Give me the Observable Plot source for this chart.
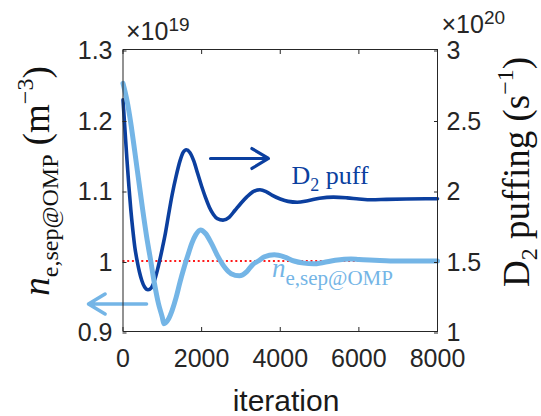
<!DOCTYPE html>
<html>
<head>
<meta charset="utf-8">
<script src="https://cdn.jsdelivr.net/npm/d3@7"></script>
<script src="https://cdn.jsdelivr.net/npm/@observablehq/plot@0.6"></script>
<style>
html, body { margin: 0; padding: 0; background: #fff; }
svg { display: block; }
</style>
</head>
<body>
<div id="chart"></div>
<script>
// ---- data ----
// n_e,sep@OMP (x 1e19 m^-3), left axis
const neIter = [0, 100, 200, 300, 400, 500, 600, 700, 800, 900, 1000, 1040, 1150, 1250, 1350, 1450, 1550, 1650, 1750, 1850, 1970, 2100, 2250, 2400, 2480, 2600, 2750, 2960, 3150, 3300, 3440, 3600, 3850, 4100, 4350, 4600, 4850, 5100, 5400, 5800, 6000, 6400, 6800, 7300, 8000];
const neValues = [1.252, 1.228, 1.195, 1.155, 1.114, 1.073, 1.035, 1.002, 0.968, 0.940, 0.920, 0.911, 0.917, 0.930, 0.948, 0.970, 0.990, 1.008, 1.025, 1.037, 1.044, 1.039, 1.025, 1.008, 1.000, 0.990, 0.982, 0.979, 0.985, 0.995, 1.000, 1.006, 1.009, 1.006, 1.000, 0.997, 0.996, 0.998, 1.001, 1.003, 1.002, 1.001, 1.000, 1.000, 1.000];
// D2 puffing (x 1e20 s^-1), right axis
const puffIter = [0, 50, 100, 150, 200, 250, 300, 360, 420, 480, 550, 636, 720, 800, 870, 930, 1000, 1080, 1160, 1250, 1350, 1450, 1530, 1610, 1700, 1800, 1900, 2000, 2100, 2200, 2300, 2400, 2544, 2700, 2850, 3000, 3150, 3300, 3483, 3650, 3800, 4000, 4200, 4431, 4700, 5000, 5354, 5700, 6000, 6318, 6700, 7200, 7700, 8000];
const puffValues = [2.643, 2.43, 2.22, 2.03, 1.86, 1.72, 1.60, 1.50, 1.42, 1.36, 1.315, 1.296, 1.31, 1.36, 1.43, 1.50, 1.59, 1.70, 1.83, 1.97, 2.10, 2.21, 2.27, 2.289, 2.27, 2.21, 2.12, 2.03, 1.95, 1.88, 1.83, 1.80, 1.79, 1.81, 1.86, 1.91, 1.955, 1.99, 2.005, 1.99, 1.965, 1.94, 1.923, 1.917, 1.928, 1.945, 1.953, 1.948, 1.94, 1.934, 1.937, 1.94, 1.941, 1.941];
const targetDensity = [1.0];

// ticks
const xTicks = [0, 2000, 4000, 6000, 8000];
const leftTicks = [0.9, 1.0, 1.1, 1.2, 1.3];
const leftTickLabels = ["0.9", "1", "1.1", "1.2", "1.3"];
const rightTicks = [1, 1.5, 2, 2.5, 3];
const rightTickLabels = ["1", "1.5", "2", "2.5", "3"];

// annotations
const puffArrowIter = [2226, 3701];   // arrow pointing right (to the right axis)
const puffArrowLevel = 2.227;         // right-axis units
const neArrowIter = [598, -878];      // arrow pointing left (to the left axis)
const neArrowLevel = 0.939;           // left-axis units
const puffLabelIter = 4299, puffLabelLevel = 1.1085;
const neLabelIter = 3803, neLabelLevel = 0.9766;

// ---- helpers ----
const leftDomain = [0.9, 1.3];
const rightDomain = [1, 3];
const toLeft = v => leftDomain[0] + (v - rightDomain[0]) * (leftDomain[1] - leftDomain[0]) / (rightDomain[1] - rightDomain[0]);

const neData = neIter.map((it, i) => ({iter: it, v: neValues[i]}));
const puffData = puffIter.map((it, i) => ({iter: it, v: toLeft(puffValues[i])}));
const rightTickData = rightTicks.map((t, i) => ({pos: toLeft(t), label: rightTickLabels[i]}));
const leftTickData = leftTicks.map((t, i) => ({pos: t, label: leftTickLabels[i]}));

const DARK = "#0b3f9f";
const LIGHT = "#74b5e6";
const AX = "#262626";

const chart = Plot.plot({
  width: 541,
  height: 416,
  marginLeft: 122.5,
  marginRight: 104,
  marginTop: 49,
  marginBottom: 85,
  x: {domain: [0, 8000]},
  y: {domain: leftDomain},
  style: {fontFamily: "'Liberation Sans', Arial, Helvetica, sans-serif", fontSize: "25px", color: AX, background: "#fff"},
  marks: [
    Plot.ruleY(targetDensity, {x1: 0, x2: 8000, stroke: "#ff1a1a", strokeWidth: 2, strokeDasharray: "2,2.7"}),
    Plot.line(puffData, {x: "iter", y: "v", stroke: DARK, strokeWidth: 3.6, curve: "monotone-x"}),
    Plot.line(neData, {x: "iter", y: "v", stroke: LIGHT, strokeWidth: 5, curve: "monotone-x"}),
    Plot.arrow([{x1: puffArrowIter[0], x2: puffArrowIter[1], y: toLeft(puffArrowLevel)}],
      {x1: "x1", x2: "x2", y1: "y", y2: "y", stroke: DARK, strokeWidth: 3.2, headLength: 22, headAngle: 62, inset: 0}),
    Plot.arrow([{x1: neArrowIter[0], x2: neArrowIter[1], y: neArrowLevel}],
      {x1: "x1", x2: "x2", y1: "y", y2: "y", stroke: LIGHT, strokeWidth: 3.6, headLength: 22, headAngle: 62, inset: 0}),
    Plot.frame({stroke: AX, strokeWidth: 1}),
    Plot.axisX(xTicks, {anchor: "bottom", tickSize: -4, tickPadding: 22, tickFormat: d => String(d), label: null}),
    Plot.axisX(xTicks, {anchor: "top", tickSize: -4, tickFormat: () => "", label: null}),
    Plot.axisY(leftTickData, {y: "pos", anchor: "left", tickSize: -4, tickPadding: 14.5, tickFormat: null, text: "label", label: null, dy: 1.5}),
    Plot.axisY(rightTickData, {y: "pos", anchor: "right", tickSize: -4, tickPadding: 13, tickFormat: null, text: "label", label: null, dy: 1.5})
  ]
});

document.getElementById("chart").appendChild(chart);

// ---- rich text (sub/superscripts) placed with the plot's scales ----
const xs = chart.scale("x"), ys = chart.scale("y");
const svg = d3.select(chart);
const SANS = "'Liberation Sans', Arial, Helvetica, sans-serif";
const SERIF = "'Liberation Serif', 'Times New Roman', Times, serif";

function rich(parent, parts, attrs) {
  const t = parent.append("text").attr("text-anchor", "start");
  for (const k in attrs) t.attr(k, attrs[k]);
  for (const p of parts) {
    const s = t.append("tspan").text(p.t);
    if (p.size) s.attr("font-size", p.size);
    if (p.dy) s.attr("dy", p.dy);
    if (p.italic) s.attr("font-style", "italic");
  }
  return t;
}

const x0 = xs.apply(0), x8 = xs.apply(8000);
// exponent labels
rich(svg, [{t: "×10"}, {t: "19", size: 19, dy: -9}],
  {x: x0 + 3.5, y: 40, "font-family": SANS, "font-size": 25, fill: AX});
rich(svg, [{t: "×10"}, {t: "20", size: 19, dy: -9}],
  {x: x8 + 4.5, y: 33, "font-family": SANS, "font-size": 25, fill: AX});

// x-axis label
rich(svg, [{t: "iteration"}], {x: 286, y: 411, "text-anchor": "middle", "font-family": SANS, "font-size": 30, fill: "#1a1a1a"});

// left y label
const gl = svg.append("g").attr("transform", "translate(49,181) rotate(-90)");
rich(gl, [
  {t: "n", italic: true},
  {t: "e,sep@OMP", size: 24, dy: 9},
  {t: " (m", dy: -9},
  {t: "−3", size: 24, dy: -16},
  {t: ")", dy: 16}
], {x: 0, y: 0, "text-anchor": "middle", "font-family": SERIF, "font-size": 37, fill: "#111"});

// right y label
const gr = svg.append("g").attr("transform", "translate(529,172) rotate(-90)");
rich(gr, [
  {t: "D"},
  {t: "2", size: 24, dy: 8},
  {t: " puffing (s", dy: -8},
  {t: "−1", size: 24, dy: -16},
  {t: ")", dy: 16}
], {x: 0, y: 0, "text-anchor": "middle", "font-family": SERIF, "font-size": 37, fill: "#111"});

// in-plot series labels
rich(svg, [{t: "D"}, {t: "2", size: 18, dy: 7}, {t: " puff", dy: -7}],
  {x: xs.apply(puffLabelIter), y: ys.apply(puffLabelLevel), "font-family": SERIF, "font-size": 26, fill: DARK});
rich(svg, [{t: "n", italic: true}, {t: "e,sep@OMP", size: 21, dy: 8}],
  {x: xs.apply(neLabelIter), y: ys.apply(neLabelLevel), "font-family": SERIF, "font-size": 27, fill: LIGHT});
</script>
</body>
</html>
